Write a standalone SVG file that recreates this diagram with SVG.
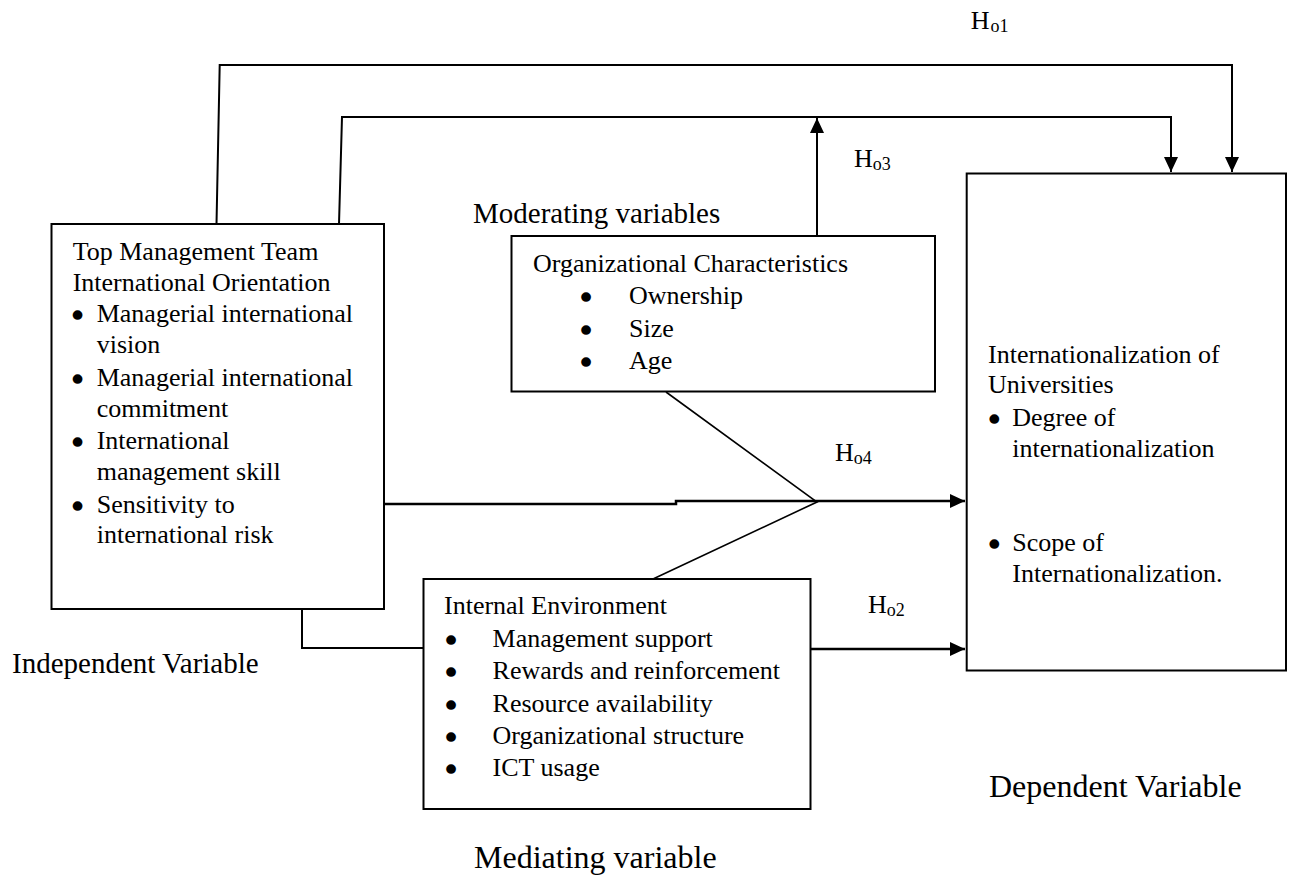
<svg xmlns="http://www.w3.org/2000/svg" width="1290" height="878" viewBox="0 0 1290 878">
<defs>
<style>
text{font-family:"Liberation Serif","Times New Roman",serif;fill:#000}
.t{font-size:26px}
.b{font-size:26px;stroke:#000;stroke-width:3.5;stroke-linejoin:round}
.big{font-size:29px}
.big2{font-size:32px}
.sub{font-size:18px}
.box{fill:#fff;stroke:#000;stroke-width:2}
.c{fill:none;stroke:#000;stroke-width:2}
.c2{fill:none;stroke:#000;stroke-width:2.5}
.d{fill:none;stroke:#000;stroke-width:1.6}
</style>
<marker id="ah" markerWidth="16" markerHeight="14" refX="15" refY="7" orient="auto" markerUnits="userSpaceOnUse">
<path d="M0,0 L15,7 L0,14 z" fill="#000"/>
</marker>
</defs>
<rect width="1290" height="878" fill="#fff"/>

<g id="connectors">
<path class="c" d="M216.5,224 L219.7,65 L1232,65 L1232,172" marker-end="url(#ah)"/>
<path class="c" d="M339,224 L342,117 L1171,117 L1171,172" marker-end="url(#ah)"/>
<path class="c" d="M817,236 L817,118" marker-end="url(#ah)"/>
<path class="c2" d="M384,504 L676,504 L676,501 L965,501" marker-end="url(#ah)"/>
<path class="d" d="M666,392 L817,502 L653,579"/>
<path class="c" d="M302,609 L302,648 L423.5,648"/>
<path class="c2" d="M811,649 L965,649" marker-end="url(#ah)"/>
</g>

<g id="labels">
<text class="t" x="970.7" y="29">H<tspan class="sub" dy="3" dx="1">o1</tspan></text>
<text class="t" x="854" y="167">H<tspan class="sub" dy="3">o3</tspan></text>
<text class="t" x="835" y="461">H<tspan class="sub" dy="3">o4</tspan></text>
<text class="t" x="868" y="613">H<tspan class="sub" dy="3">o2</tspan></text>
<text class="big" x="473" y="223">Moderating variables</text>
<text class="big" x="12" y="673">Independent Variable</text>
<text class="big2" x="474" y="868">Mediating variable</text>
<text class="big2" x="989" y="797">Dependent Variable</text>
</g>

<g id="independent">
<rect class="box" x="51.5" y="224" width="332.5" height="385"/>
<text class="t" x="72.7" y="260">Top Management Team</text>
<text class="t" x="72.7" y="291">International Orientation</text>
<text class="b" x="73.1" y="324">•</text>
<text class="t" x="96.7" y="322">Managerial international</text>
<text class="t" x="96.7" y="353.3">vision</text>
<text class="b" x="73.1" y="387.7">•</text>
<text class="t" x="96.7" y="385.7">Managerial international</text>
<text class="t" x="96.7" y="416.7">commitment</text>
<text class="b" x="73.1" y="451.3">•</text>
<text class="t" x="96.7" y="449.3">International</text>
<text class="t" x="96.7" y="480">management skill</text>
<text class="b" x="73.1" y="514.7">•</text>
<text class="t" x="96.7" y="512.7">Sensitivity to</text>
<text class="t" x="96.7" y="543.3">international risk</text>
</g>

<g id="moderating">
<rect class="box" x="511.5" y="236" width="423.5" height="155.5"/>
<text class="t" x="533" y="272">Organizational Characteristics</text>
<text class="b" x="581.5" y="306">•</text>
<text class="t" x="629" y="304">Ownership</text>
<text class="b" x="581.5" y="339">•</text>
<text class="t" x="629" y="337">Size</text>
<text class="b" x="581.5" y="371">•</text>
<text class="t" x="629" y="369">Age</text>
</g>

<g id="mediating">
<rect class="box" x="423.5" y="579" width="387" height="230"/>
<text class="t" x="444" y="614">Internal Environment</text>
<text class="b" x="446.5" y="649">•</text>
<text class="t" x="492.6" y="647">Management support</text>
<text class="b" x="446.5" y="681">•</text>
<text class="t" x="492.6" y="679">Rewards and reinforcement</text>
<text class="b" x="446.5" y="714">•</text>
<text class="t" x="492.6" y="712">Resource availability</text>
<text class="b" x="446.5" y="746">•</text>
<text class="t" x="492.6" y="744">Organizational structure</text>
<text class="b" x="446.5" y="778">•</text>
<text class="t" x="492.6" y="776">ICT usage</text>
</g>

<g id="dependent">
<rect class="box" x="966.7" y="173.5" width="319.3" height="497"/>
<text class="t" x="988" y="363">Internationalization of</text>
<text class="t" x="988" y="393">Universities</text>
<text class="b" x="989.8" y="428">•</text>
<text class="t" x="1012.3" y="426">Degree of</text>
<text class="t" x="1012.3" y="456.5">internationalization</text>
<text class="b" x="989.8" y="552.5">•</text>
<text class="t" x="1012.3" y="550.5">Scope of</text>
<text class="t" x="1012.3" y="581.5">Internationalization.</text>
</g>
</svg>
